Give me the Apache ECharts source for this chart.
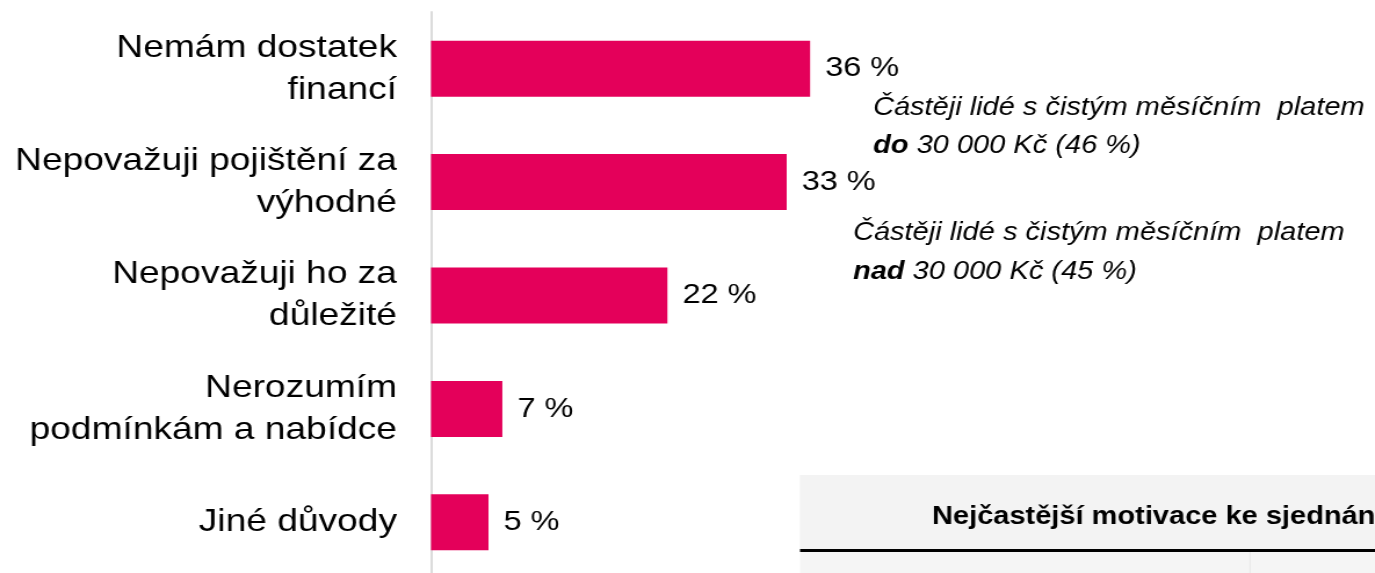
<!DOCTYPE html>
<html>
<head>
<meta charset="utf-8">
<script src="https://cdn.jsdelivr.net/npm/echarts@6/dist/echarts.min.js"></script>
<style>
  html, body { margin: 0; padding: 0; background: #fff; overflow: hidden; height: 573px; }
  /* the source slide is stretched horizontally, so the canvas is too;
     it also runs a little past the bottom edge */
  #chart { width: 1185px; height: 580px; transform: scaleX(1.1603); transform-origin: 0 0; }
</style>
</head>
<body>
<div id="chart"></div>
<script>
// reasons for not having insurance, share of respondents (%)
const categories = [
  'Nemám dostatek\nfinancí',
  'Nepovažuji pojištění za\nvýhodné',
  'Nepovažuji ho za\ndůležité',
  'Nerozumím\npodmínkám a nabídce',
  'Jiné důvody'
];
const shares = [35.6, 33.4, 22.2, 6.7, 5.4];

const noteLow = ['Částěji lidé s čistým měsíčním  platem', '{b|do} 30 000 Kč (46 %)'];
const noteHigh = ['Částěji lidé s čistým měsíčním  platem', '{b|nad} 30 000 Kč (45 %)'];
const tableTitle = 'Nejčastější motivace ke sjednání pojištění';

const SX = 1.1603;
const px = v => v / SX; // screen x -> chart x

const FONT = '"Liberation Sans", Arial, sans-serif';
const noteStyle = {
  fontFamily: FONT, fontSize: 25, fontStyle: 'italic', fill: '#000',
  verticalAlign: 'middle',
  rich: { b: { fontFamily: FONT, fontSize: 25, fontStyle: 'italic', fontWeight: 'bold', fill: '#000' } }
};

function noteLine(text, x, y) {
  return { type: 'text', x: px(x), y: y, style: Object.assign({}, noteStyle, { text: text }) };
}

const chart = echarts.init(document.getElementById('chart'));

chart.setOption({
  animation: false,
  grid: { left: px(431), right: px(92), top: 12, bottom: 1, containLabel: false },
  xAxis: {
    type: 'value', min: 0, max: 80,
    show: false
  },
  yAxis: {
    type: 'category',
    data: categories,
    inverse: true,
    axisLine: { show: true, lineStyle: { color: '#d9d9d9', width: 1.8 } },
    axisTick: { show: false },
    axisLabel: {
      color: '#000', fontFamily: FONT, fontSize: 32, lineHeight: 42,
      align: 'right', margin: px(34)
    }
  },
  series: [{
    type: 'bar',
    data: shares,
    barWidth: 56,
    itemStyle: { color: '#e4005a' },
    label: {
      show: true, position: 'right', distance: px(15),
      color: '#000', fontFamily: FONT, fontSize: 28,
      formatter: p => Math.round(p.value) + ' %'
    }
  }],
  graphic: [
    noteLine(noteLow[0], 873, 108),
    noteLine(noteLow[1], 873, 146),
    noteLine(noteHigh[0], 853, 233),
    noteLine(noteHigh[1], 853, 272),
    { type: 'rect', shape: { x: px(800), y: 475, width: px(575), height: 105 }, style: { fill: '#f5f5f5' } },
    { type: 'rect', shape: { x: px(800), y: 475, width: px(575), height: 74 }, style: { fill: '#f3f3f3' } },
    { type: 'rect', shape: { x: px(800), y: 549, width: px(575), height: 3 }, style: { fill: '#000' } },
    { type: 'line', shape: { x1: px(1250), y1: 552, x2: px(1250), y2: 580 }, style: { stroke: '#e8e8e8', lineWidth: 1 } },
    {
      type: 'text', x: px(932), y: 517,
      style: { text: tableTitle, fontFamily: FONT, fontSize: 25, fontWeight: 'bold', fill: '#000', verticalAlign: 'middle' }
    }
  ]
});
</script>
</body>
</html>
